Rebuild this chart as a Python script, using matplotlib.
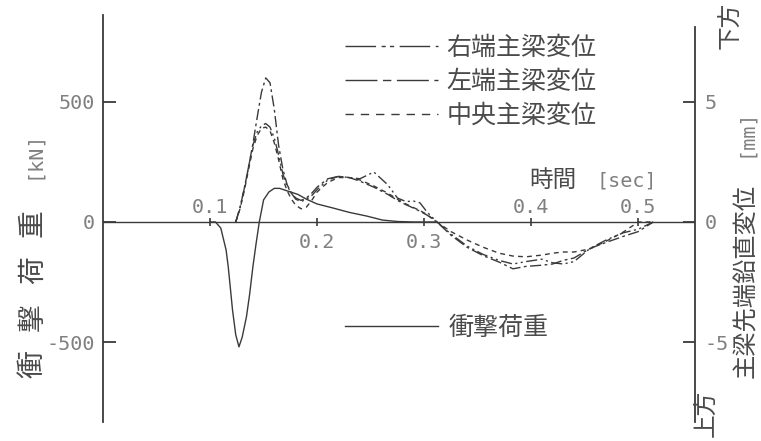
import matplotlib
matplotlib.use('Agg')
import matplotlib.pyplot as plt
from matplotlib.lines import Line2D

plt.rcParams['font.family'] = ['Noto Sans CJK JP', 'DejaVu Sans']
plt.rcParams['axes.unicode_minus'] = False

# impact load [kN]
t_load = [0.100, 0.105, 0.110, 0.115, 0.117, 0.121, 0.124, 0.127, 0.130, 0.134, 0.137,
          0.140, 0.143, 0.146, 0.150, 0.155, 0.160, 0.165, 0.173, 0.182, 0.190, 0.200,
          0.215, 0.230, 0.246, 0.261, 0.275, 0.290, 0.310]
load = [0, 0, -25, -117, -187, -367, -470, -520, -480, -395, -300,
        -187, -90, 0, 92, 125, 140, 140, 128, 115, 95, 75,
        58, 40, 25, 8, 2, 0, 0]

# girder tip vertical displacement [mm] (down = +)
t_disp = [0.124, 0.128, 0.132, 0.136, 0.140, 0.144, 0.148, 0.152, 0.156, 0.160, 0.164,
          0.168, 0.172, 0.176, 0.180, 0.185, 0.190, 0.195, 0.200, 0.210, 0.220, 0.230,
          0.240, 0.253, 0.266, 0.275, 0.283, 0.290, 0.296, 0.303, 0.312, 0.325, 0.340,
          0.355, 0.370, 0.383, 0.395, 0.410, 0.420, 0.430, 0.440, 0.455, 0.470, 0.486,
          0.500, 0.514]
disp_right = [0, 0.6, 1.4, 2.3, 3.2, 3.75, 4.0, 4.1, 3.95, 3.5, 2.8,
              2.0, 1.5, 1.2, 0.95, 0.85, 0.95, 1.1, 1.35, 1.75, 1.9, 1.85,
              1.8, 2.08, 1.55, 1.0, 0.85, 0.87, 0.8, 0.4, 0, -0.5, -1.0,
              -1.35, -1.6, -1.75, -1.65, -1.55, -1.7, -1.75, -1.65, -1.1, -0.75, -0.45,
              -0.3, 0]
disp_left = [0, 0.6, 1.4, 2.3, 3.25, 4.35, 5.4, 6.0, 5.8, 4.7, 3.2,
             2.2, 1.55, 1.2, 1.0, 0.9, 1.0, 1.2, 1.45, 1.8, 1.9, 1.85,
             1.7, 1.45, 1.15, 0.9, 0.72, 0.58, 0.45, 0.28, 0, -0.55, -1.05,
             -1.4, -1.67, -1.95, -1.85, -1.8, -1.75, -1.6, -1.5, -1.1, -0.85, -0.6,
             -0.4, 0]
disp_center = [0, 0.55, 1.3, 2.2, 3.05, 3.6, 3.9, 3.95, 3.8, 3.3, 2.6,
               1.8, 1.3, 0.95, 0.7, 0.55, 0.62, 0.9, 1.25, 1.65, 1.85, 1.85,
               1.75, 1.5, 1.2, 0.95, 0.75, 0.6, 0.48, 0.3, 0, -0.4, -0.75,
               -1.05, -1.3, -1.42, -1.45, -1.38, -1.3, -1.25, -1.25, -1.12, -0.8, -0.42,
               0, 0]

time_ticks = [0.1, 0.2, 0.3, 0.4, 0.5]
time_labels = ['0.1', '0.2', '0.3', '0.4', '0.5']
time_label_up = [True, False, False, True, True]
load_ticks = [-500, 0, 500]
disp_ticks = [-5, 0, 5]

line_c = '#3a3a3a'
text_c = '#4a4a4a'
num_c = '#808080'
mono = 'DejaVu Sans Mono'

ls_right = (0, (8, 2.5, 1.5, 2.5, 1.5, 2.5))
ls_left = (0, (8, 2.5, 2, 2.5))
ls_center = (0, (3.5, 3))

W, H = 761, 441
fig = plt.figure(figsize=(W / 100, H / 100), dpi=100)
ax = fig.add_axes([103 / W, 1 - 422 / H, (695 - 103) / W, (422 - 15) / H])
ax2 = ax.twinx()

ax.set_xlim(0, 0.553)
ax.set_ylim(-833, 862)
ax2.set_ylim(-8.33, 8.62)

for s in ['top', 'bottom', 'right']:
    ax.spines[s].set_visible(False)
for s in ['top', 'bottom', 'left']:
    ax2.spines[s].set_visible(False)
ax.spines['left'].set_linewidth(1.3)
ax.spines['left'].set_color(line_c)
ax2.spines['right'].set_linewidth(1.3)
ax2.spines['right'].set_color(line_c)
ax2.spines['right'].set_bounds(-8.33, 8.12)

ax.tick_params(axis='x', bottom=False, labelbottom=False)
ax.set_yticks(load_ticks)
ax.set_yticklabels([str(v) for v in load_ticks], fontfamily=mono)
ax.tick_params(axis='y', direction='in', length=9, width=1.3, color=line_c,
               pad=6, labelsize=14.5, labelcolor=num_c)
ax2.set_yticks(disp_ticks)
ax2.set_yticklabels([str(v) for v in disp_ticks], fontfamily=mono)
ax2.tick_params(axis='y', direction='in', length=9, width=1.3, color=line_c,
                pad=7, labelsize=14.5, labelcolor=num_c)

# zero (time) axis
ax.axhline(0, color=line_c, lw=1.0)
ax.plot(time_ticks, [0] * len(time_ticks), ls='none', marker='|', ms=6, mew=1.2, color=line_c)
for t, lab, up in zip(time_ticks, time_labels, time_label_up):
    ax.text(t, 62 if up else -85, lab, ha='center', va='center',
            fontsize=14.5, family=mono, color=num_c)
ax.text(0.4206, 172, '時間', ha='center', va='center', fontsize=17, color=text_c)
ax.text(0.489, 172, '[sec]', ha='center', va='center', fontsize=14.5, family=mono, color=num_c)

# curves
ax.plot(t_load, load, color=line_c, lw=1.0)
ax2.plot(t_disp, disp_right, color=line_c, lw=1.0, ls=ls_right)
ax2.plot(t_disp, disp_left, color=line_c, lw=1.0, ls=ls_left)
ax2.plot(t_disp, disp_center, color=line_c, lw=1.0, ls=ls_center)

# legends
h1 = [Line2D([], [], color=line_c, lw=1.0, ls=(0, (22, 4, 3, 3, 3, 4))),
      Line2D([], [], color=line_c, lw=1.0, ls=(0, (23, 4, 6, 4))),
      Line2D([], [], color=line_c, lw=1.0, ls=(0, (6, 5)))]
leg1 = ax2.legend(h1, ['右端主梁変位', '左端主梁変位', '中央主梁変位'],
                  loc='upper left', bbox_to_anchor=(345 / W, 1 - 35 / H),
                  bbox_transform=fig.transFigure, frameon=False, fontsize=18,
                  handlelength=3.7, handletextpad=0.35, labelspacing=0.32,
                  borderpad=0, borderaxespad=0, labelcolor=text_c)
ax2.add_artist(leg1)
h2 = [Line2D([], [], color=line_c, lw=1.0)]
ax2.legend(h2, ['衝撃荷重'], loc='upper left', bbox_to_anchor=(345 / W, 1 - 315 / H),
           bbox_transform=fig.transFigure, frameon=False, fontsize=18,
           handlelength=3.7, handletextpad=0.45, borderpad=0, borderaxespad=0,
           labelcolor=text_c)

# axis titles
left_chars = ['衝', '撃', '荷', '重']
for i, ch in enumerate(left_chars):
    fig.text(33 / W, 1 - (364 - 47 * i) / H, ch, rotation=90, ha='center', va='center',
             fontsize=20, color=text_c)
fig.text(33 / W, 1 - 155 / H, '[kN]', rotation=90, ha='center', va='center',
         fontsize=14.5, family=mono, color=num_c)
fig.text(746 / W, 1 - 281 / H, '主梁先端鉛直変位', rotation=90, ha='center', va='center',
         fontsize=17.5, color=text_c)
fig.text(746 / W, 1 - 133 / H, '[mm]', rotation=90, ha='center', va='center',
         fontsize=14.5, family=mono, color=num_c)
fig.text(730 / W, 1 - 25 / H, '下方', rotation=90, ha='center', va='center',
         fontsize=17, color=text_c)
fig.text(706 / W, 1 - 413 / H, '上方', rotation=90, ha='center', va='center',
         fontsize=17, color=text_c)

fig.savefig('out.png', dpi=100, facecolor='white')
